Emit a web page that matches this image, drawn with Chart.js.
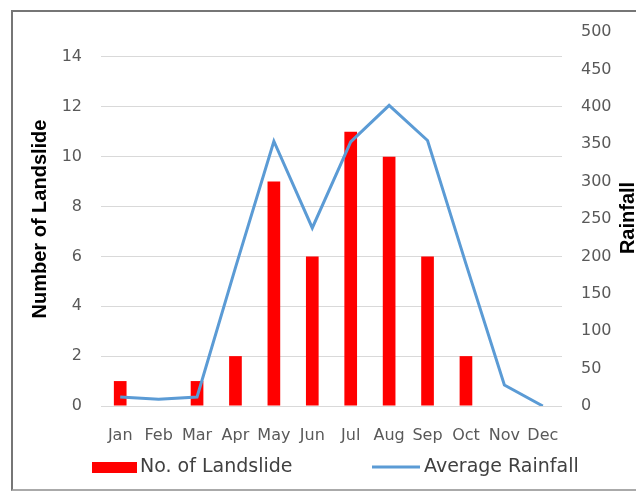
<!DOCTYPE html>
<html>
<head>
<meta charset="utf-8">
<script src="https://cdn.jsdelivr.net/npm/chart.js@4"></script>
<style>
  body { margin: 0; background: #fff; }
  #wrap { position: relative; width: 636px; height: 491px; overflow: hidden; }
  #frame {
    position: absolute; left: 11px; top: 10px; width: 660px; height: 477px;
    border: 2px solid #767676; border-bottom-color: #aaaaaa;
  }
  #landslideChart { position: absolute; left: 0; top: 0; }
</style>
</head>
<body>
<div id="wrap">
  <div id="frame"></div>
  <canvas id="landslideChart" width="636" height="491"></canvas>
</div>
<script>
"use strict";

const months = ["Jan", "Feb", "Mar", "Apr", "May", "Jun", "Jul", "Aug", "Sep", "Oct", "Nov", "Dec"];
const landslides = [1, 0, 1, 2, 9, 6, 11, 10, 6, 2, 0, 0];
const rainfall = [12, 9, 12, 185, 354, 238, 353, 402, 355, 190, 28, 0];
const landslideTicks = [0, 2, 4, 6, 8, 10, 12, 14];
const rainfallTicks = [0, 50, 100, 150, 200, 250, 300, 350, 400, 450, 500];

const TICK_COLOR = "#595959";
const tickFont = { family: "DejaVu Sans", size: 16 };

// ----------------------------
// Right axis title (reads bottom to top) + legend
// ----------------------------
const extrasPlugin = {
  id: "extras",
  afterDraw(chart) {
    const ctx = chart.ctx;
    const area = chart.chartArea;
    const ds = chart.data.datasets;
    ctx.save();

    // "Rainfall" title
    ctx.translate(chart.scales.y1.right - 8, (area.top + area.bottom) / 2 - 1);
    ctx.rotate(-Math.PI / 2);
    ctx.font = 'bold 20px "Liberation Sans"';
    ctx.fillStyle = "#000";
    ctx.textAlign = "center";
    ctx.textBaseline = "middle";
    ctx.fillText("Rainfall", 0, 0);
    ctx.setTransform(1, 0, 0, 1, 0, 0);

    // legend
    ctx.font = '19px "DejaVu Sans"';
    ctx.textAlign = "left";
    ctx.textBaseline = "middle";
    ctx.fillStyle = ds[0].backgroundColor;
    ctx.fillRect(92, 462, 45, 11);
    ctx.fillStyle = "#404040";
    ctx.fillText(ds[0].label, 140, 467);

    ctx.strokeStyle = ds[1].borderColor;
    ctx.lineWidth = 3;
    ctx.beginPath();
    ctx.moveTo(372, 467);
    ctx.lineTo(420, 467);
    ctx.stroke();
    ctx.fillStyle = "#404040";
    ctx.fillText(ds[1].label, 424, 467);

    ctx.restore();
  }
};

const ctx = document.getElementById("landslideChart").getContext("2d");

new Chart(ctx, {
  type: "bar",
  data: {
    labels: months,
    datasets: [
      {
        type: "bar",
        label: "No. of Landslide",
        data: landslides,
        backgroundColor: "#FF0000",
        borderWidth: 0,
        barPercentage: 0.33,
        categoryPercentage: 1,
        yAxisID: "y",
        order: 1
      },
      {
        type: "line",
        label: "Average Rainfall",
        data: rainfall,
        borderColor: "#5B9BD5",
        backgroundColor: "#5B9BD5",
        borderWidth: 3,
        pointRadius: 0,
        tension: 0,
        yAxisID: "y1",
        order: 0
      }
    ]
  },
  options: {
    responsive: false,
    animation: false,
    layout: { padding: { top: 32, bottom: 35, left: 0, right: 0 } },
    plugins: {
      legend: { display: false },
      tooltip: { enabled: false }
    },
    scales: {
      x: {
        grid: { display: false },
        border: { display: false },
        ticks: { color: TICK_COLOR, font: tickFont, padding: 12, maxRotation: 0, autoSkip: false },
        afterFit: s => { s.height = 50; }
      },
      y: {
        position: "left",
        min: 0,
        max: 15,
        afterBuildTicks: s => { s.ticks = landslideTicks.map(v => ({ value: v })); },
        grid: { color: "#D9D9D9", lineWidth: 1, drawTicks: false },
        border: { display: false },
        ticks: { color: TICK_COLOR, font: tickFont, padding: 19 },
        title: {
          display: true,
          text: "Number of Landslide",
          color: "#000",
          font: { family: "Liberation Sans", size: 20, weight: "bold" },
          padding: { top: 28, bottom: 0 }
        },
        afterFit: s => { s.width = 101; }
      },
      y1: {
        position: "right",
        min: 0,
        max: 500,
        afterBuildTicks: s => { s.ticks = rainfallTicks.map(v => ({ value: v })); },
        grid: { display: false, drawTicks: false },
        border: { display: false },
        ticks: { color: TICK_COLOR, font: tickFont, padding: 19 },
        afterFit: s => { s.width = 74; }
      }
    }
  },
  plugins: [extrasPlugin]
});
</script>
</body>
</html>
